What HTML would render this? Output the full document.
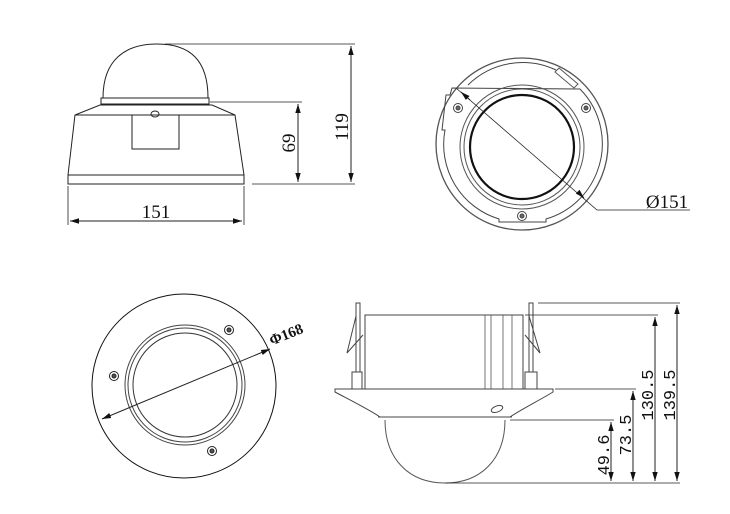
<!DOCTYPE html>
<html><head><meta charset="utf-8"><style>html,body{margin:0;padding:0;background:#fff}svg{display:block}text{font-family:"Liberation Serif","Times New Roman",serif}.m{font-family:"Liberation Mono",monospace}</style></head>
<body>
<svg width="730" height="514" viewBox="0 0 730 514" xmlns="http://www.w3.org/2000/svg" fill="none" stroke="#222" stroke-width="1">
<defs>
<marker id="a" viewBox="0 0 10 10" refX="10" refY="5" markerWidth="9" markerHeight="9" orient="auto-start-reverse" markerUnits="userSpaceOnUse"><path d="M0,2 L10,5 L0,8 z" fill="#111" stroke="none"/></marker>
</defs>
<!-- View 1 -->
<path d="M103,98 C103,60 125,44 157,44 C190,44 208,60 208,98" />
<rect x="101" y="98" width="108" height="6"/>
<path d="M100,105 L212,105 L235,115 L244,175 L244,184 L68,184 L68,175 L75,115 Z"/>
<line x1="75" y1="115" x2="235" y2="115"/>
<line x1="68" y1="175" x2="244" y2="175"/>
<rect x="132" y="115" width="47" height="34"/>
<ellipse cx="155" cy="114" rx="4" ry="3"/>
<line x1="68" y1="186" x2="68" y2="225" stroke-width="0.8"/>
<line x1="244" y1="186" x2="244" y2="225" stroke-width="0.8"/>
<line x1="70" y1="221" x2="242" y2="221" marker-start="url(#a)" marker-end="url(#a)"/>
<text x="156" y="218" font-size="19" fill="#111" stroke="none" text-anchor="middle">151</text>
<line x1="210" y1="102" x2="302" y2="102" stroke-width="0.8"/>
<line x1="252" y1="184" x2="355" y2="184" stroke-width="0.8"/>
<line x1="165" y1="44" x2="355" y2="44" stroke-width="0.8"/>
<line x1="298" y1="104" x2="298" y2="182" marker-start="url(#a)" marker-end="url(#a)"/>
<line x1="351" y1="46" x2="351" y2="182" marker-start="url(#a)" marker-end="url(#a)"/>
<text transform="translate(295,143) rotate(-90)" font-size="19" fill="#111" stroke="none" text-anchor="middle">69</text>
<text transform="translate(348,127) rotate(-90)" font-size="19" fill="#111" stroke="none" text-anchor="middle">119</text>
<!-- View 2 -->
<circle cx="522" cy="144" r="86" stroke="#555" stroke-width="1.3"/>
<path d="M468,85 A78,78 0 0 1 556,70 M580,89 A78,78 0 0 1 597,172 A78,78 0 0 1 546,219 L546,222 L499,222 L499,219 A78,78 0 0 1 445,130 L442,130 L446,95 L450,95 L452,88 Z" stroke="#444"/>
<path d="M559,68 L578,84 L574,88 L555,72 Z" stroke="#555"/>
<circle cx="522" cy="147" r="62" stroke="#555"/>
<circle cx="522" cy="147" r="58" stroke="#555"/>
<circle cx="522" cy="147" r="52" stroke="#111" stroke-width="2.2"/>
<g stroke="#444"><circle cx="458" cy="108" r="4.5"/><circle cx="458" cy="108" r="2" fill="#666"/>
<circle cx="586" cy="108" r="4.5"/><circle cx="586" cy="108" r="2" fill="#666"/>
<circle cx="522" cy="216" r="4.5"/><circle cx="522" cy="216" r="2" fill="#666"/></g>
<polyline points="456,88 597,210 690,210" stroke-width="0.8"/>
<line x1="470" y1="100" x2="461" y2="92" marker-end="url(#a)"/>
<line x1="582" y1="196" x2="584" y2="198" marker-end="url(#a)"/>
<text x="667" y="208" font-size="19" fill="#111" stroke="none" text-anchor="middle">Ø151</text>
<!-- View 3 -->
<circle cx="184" cy="386" r="92" stroke="#111"/>
<circle cx="185" cy="385" r="60" stroke="#444"/>
<circle cx="185" cy="385" r="57" stroke="#444"/>
<circle cx="185" cy="385" r="52" stroke="#333"/>
<g stroke="#222"><circle cx="229" cy="330" r="4.5"/><circle cx="229" cy="330" r="2" fill="#555"/>
<circle cx="114" cy="376" r="4.5"/><circle cx="114" cy="376" r="2" fill="#555"/>
<circle cx="212" cy="451" r="4.5"/><circle cx="212" cy="451" r="2" fill="#555"/></g>
<line x1="102" y1="419" x2="270" y2="349" marker-start="url(#a)" marker-end="url(#a)"/>
<text transform="translate(288,339) rotate(-22)" font-size="15" font-weight="bold" fill="#111" stroke="none" text-anchor="middle">Φ168</text>
<!-- View 4 -->
<path d="M335,389 L553,389 L553,392 C540,400 520,410 510,417 L380,417 C370,410 350,400 335,392 Z" stroke="#444"/>
<line x1="378" y1="417" x2="512" y2="417" stroke="#444"/>
<path d="M365,389 L365,315 L523,315 L523,389" stroke="#444"/>
<path d="M485,315 L485,389 M491,315 L491,389 M503,315 L503,389 M512,315 L512,389" stroke="#555" stroke-width="0.8"/>
<path d="M352,389 L352,372 L362,372 L362,389 M525,389 L525,372 L537,372 L537,389" stroke="#444"/>
<path d="M356,372 L356,303 L360,303 L360,372 M529,372 L529,303 L533,303 L533,372" stroke="#444"/>
<path d="M356,316 L347,353 L363,335 M529,316 L540,353 L525,335" stroke="#444"/>
<ellipse cx="497" cy="409" rx="6" ry="3" transform="rotate(-20 497 409)" stroke="#444"/>
<path d="M385,420 C385,460 410,483 445,483 C480,483 505,460 505,420" stroke="#555"/>
<line x1="538" y1="303" x2="680" y2="303" stroke-width="0.8"/>
<line x1="525" y1="315" x2="658" y2="315" stroke-width="0.8"/>
<line x1="555" y1="389" x2="636" y2="389" stroke-width="0.8"/>
<line x1="510" y1="420" x2="614" y2="420" stroke-width="0.8"/>
<line x1="445" y1="483" x2="680" y2="483" stroke-width="0.8"/>
<line x1="611" y1="422" x2="611" y2="481" marker-start="url(#a)" marker-end="url(#a)"/>
<line x1="633" y1="391" x2="633" y2="481" marker-start="url(#a)" marker-end="url(#a)"/>
<line x1="655" y1="317" x2="655" y2="481" marker-start="url(#a)" marker-end="url(#a)"/>
<line x1="677" y1="305" x2="677" y2="481" marker-start="url(#a)" marker-end="url(#a)"/>
<g font-size="17" fill="#111" stroke="none" text-anchor="middle">
<text class="m" transform="translate(609,455) rotate(-90)">49.6</text>
<text class="m" transform="translate(631,435) rotate(-90)">73.5</text>
<text class="m" transform="translate(653,395) rotate(-90)">130.5</text>
<text class="m" transform="translate(675,395) rotate(-90)">139.5</text>
</g>
</svg>
</body></html>
